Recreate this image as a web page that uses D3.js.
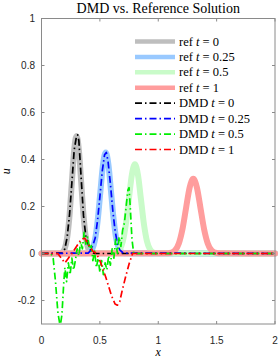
<!DOCTYPE html>
<html>
<head>
<meta charset="utf-8">
<script src="https://cdn.jsdelivr.net/npm/d3@7"></script>
<style>
  body { margin: 0; background: #fff; }
  svg { display: block; }
</style>
</head>
<body>
<svg id="chart"></svg>
<script>
// reference solution
var refX0 = [0, 0.16, 0.18, 0.20, 0.22, 0.24, 0.26, 0.28, 0.30, 0.32, 0.34, 0.36, 0.38, 0.40, 0.42, 0.44, 2];
var refY0 = [0, 0.001, 0.006, 0.022, 0.068, 0.162, 0.303, 0.441, 0.5, 0.441, 0.303, 0.162, 0.068, 0.022, 0.006, 0.001, 0];
var refX25 = [0, 0.389, 0.412, 0.435, 0.458, 0.481, 0.504, 0.527, 0.55, 0.573, 0.596, 0.619, 0.642, 0.665, 0.688, 0.711, 2];
var refY25 = [0, 0.001, 0.005, 0.019, 0.058, 0.140, 0.261, 0.379, 0.43, 0.379, 0.261, 0.140, 0.058, 0.019, 0.005, 0.001, 0];
var refX50 = [0, 0.618, 0.644, 0.670, 0.696, 0.722, 0.748, 0.774, 0.8, 0.826, 0.852, 0.878, 0.904, 0.930, 0.956, 0.982, 2];
var refY50 = [0, 0.001, 0.004, 0.017, 0.051, 0.123, 0.230, 0.335, 0.38, 0.335, 0.230, 0.123, 0.051, 0.017, 0.004, 0.001, 0];
var refX1 = [0, 1.083, 1.114, 1.145, 1.176, 1.207, 1.238, 1.269, 1.3, 1.331, 1.362, 1.393, 1.424, 1.455, 1.486, 1.517, 2];
var refY1 = [0, 0.001, 0.004, 0.014, 0.043, 0.103, 0.193, 0.281, 0.318, 0.281, 0.193, 0.103, 0.043, 0.014, 0.004, 0.001, 0];

// DMD reconstruction
var dmdX0 = [0, 0.18, 0.20, 0.22, 0.24, 0.26, 0.28, 0.30, 0.31, 0.32, 0.34, 0.36, 0.38, 0.40, 0.42, 0.45, 2];
var dmdY0 = [0, 0.002, 0.02, 0.07, 0.165, 0.30, 0.44, 0.50, 0.505, 0.48, 0.32, 0.16, 0.07, 0.04, 0.015, 0, 0];
var dmdX25 = [0, 0.40, 0.42, 0.44, 0.46, 0.48, 0.50, 0.52, 0.54, 0.555, 0.57, 0.59, 0.61, 0.63, 0.65, 0.67, 0.70, 2];
var dmdY25 = [0, 0.002, 0.012, 0.035, 0.066, 0.14, 0.241, 0.349, 0.42, 0.43, 0.392, 0.297, 0.187, 0.098, 0.043, 0.015, 0.002, 0];
var dmdX50 = [0, 0.08, 0.10, 0.12, 0.14, 0.16, 0.175, 0.19, 0.20, 0.215, 0.23, 0.245, 0.26, 0.275, 0.29, 0.305, 0.32, 0.335, 0.35, 0.365,
  0.38, 0.395, 0.41, 0.425, 0.44, 0.455, 0.47, 0.485, 0.50, 0.515, 0.53, 0.545, 0.56, 0.575, 0.59, 0.605, 0.62, 0.635, 0.65, 0.665,
  0.68, 0.695, 0.71, 0.725, 0.74, 0.75, 0.76, 0.775, 0.79, 0.80, 2];
var dmdY50 = [0, 0, -0.02, -0.12, -0.25, -0.31, -0.26, -0.13, -0.06, -0.12, -0.04, -0.09, -0.02, -0.07, -0.03, 0.02, -0.01, 0.05, 0.02, 0.09,
  0.04, 0.07, 0.02, 0.04, -0.03, 0.01, -0.06, -0.02, -0.08, -0.03, -0.09, -0.04, -0.07, -0.01, -0.05, 0.02, -0.02, 0.06, 0.0, 0.07,
  0.03, 0.10, 0.13, 0.20, 0.27, 0.28, 0.20, 0.06, 0.0, 0, 0];
var dmdX1 = [0, 0.14, 0.17, 0.20, 0.23, 0.26, 0.30, 0.34, 0.37, 0.40, 0.44, 0.47, 0.50, 0.55, 0.60, 0.63, 0.65, 0.67, 0.69, 0.72, 0.75, 0.78, 2];
var dmdY1 = [0, 0, -0.02, -0.04, -0.02, 0.0, 0.03, 0.06, 0.065, 0.04, 0.01, 0, -0.03, -0.10, -0.18, -0.215, -0.22, -0.205, -0.16, -0.10, -0.045, 0, 0];

var legendLabels = ["ref", "ref", "ref", "ref", "DMD", "DMD", "DMD", "DMD"];
var legendTimes = ["0", "0.25", "0.5", "1", "0", "0.25", "0.5", "1"];
var xTicks = [0, 0.5, 1, 1.5, 2];
var yTicks = [-0.2, 0, 0.2, 0.4, 0.6, 0.8, 1];

var width = 278, height = 359;
var padL = 41.5, padR = 275, padT = 18.5, padB = 324;

var svg = d3.select("#chart").attr("width", width).attr("height", height);

var x = d3.scaleLinear().domain([0, 2]).range([padL, padR]);
var y = d3.scaleLinear().domain([-0.3, 1]).range([padB, padT]);

var dashDot = "7,3,1.5,3";
var series = [
  { xs: refX0, ys: refY0, color: "#bebebe", w: 6, dash: null, smooth: true },
  { xs: refX25, ys: refY25, color: "#99c9ff", w: 6, dash: null, smooth: true },
  { xs: refX50, ys: refY50, color: "#c9fbc9", w: 6, dash: null, smooth: true },
  { xs: refX1, ys: refY1, color: "#ff9d9d", w: 6, dash: null, smooth: true },
  { xs: dmdX0, ys: dmdY0, color: "#000000", w: 1.7, dash: dashDot, smooth: false },
  { xs: dmdX25, ys: dmdY25, color: "#0000ff", w: 1.7, dash: dashDot, smooth: false },
  { xs: dmdX50, ys: dmdY50, color: "#00ee00", w: 1.7, dash: dashDot, smooth: false },
  { xs: dmdX1, ys: dmdY1, color: "#ff0000", w: 1.7, dash: dashDot, smooth: false }
];

svg.append("clipPath").attr("id", "clip")
  .append("rect")
  .attr("x", padL - 4).attr("y", padT)
  .attr("width", padR - padL + 8).attr("height", padB - padT);

var plot = svg.append("g").attr("clip-path", "url(#clip)");

series.forEach(function(s) {
  var pts = s.xs.map(function(v, i) { return [v, s.ys[i]]; });
  var line = d3.line()
    .x(function(d) { return x(d[0]); })
    .y(function(d) { return y(d[1]); })
    .curve(s.smooth ? d3.curveMonotoneX : d3.curveLinear);
  plot.append("path")
    .attr("d", line(pts))
    .attr("fill", "none")
    .attr("stroke", s.color)
    .attr("stroke-width", s.w)
    .attr("stroke-linecap", s.dash ? "butt" : "round")
    .attr("stroke-linejoin", "round")
    .attr("stroke-dasharray", s.dash);
});

// axes box with inward ticks
var axisColor = "#8a8a8a";
svg.append("rect")
  .attr("x", padL).attr("y", padT)
  .attr("width", padR - padL).attr("height", padB - padT)
  .attr("fill", "none").attr("stroke", axisColor).attr("stroke-width", 1);

var tickLen = 3;
var sans = "Liberation Sans, Arial, sans-serif";
xTicks.forEach(function(t) {
  svg.append("line").attr("x1", x(t)).attr("x2", x(t)).attr("y1", padB).attr("y2", padB - tickLen)
    .attr("stroke", axisColor);
  svg.append("line").attr("x1", x(t)).attr("x2", x(t)).attr("y1", padT).attr("y2", padT + tickLen)
    .attr("stroke", axisColor);
  svg.append("text").attr("x", x(t)).attr("y", 344)
    .attr("text-anchor", "middle")
    .attr("font-family", sans).attr("font-size", 10).attr("fill", "#262626")
    .text(t);
});
yTicks.forEach(function(t) {
  svg.append("line").attr("x1", padL).attr("x2", padL + tickLen).attr("y1", y(t)).attr("y2", y(t))
    .attr("stroke", axisColor);
  svg.append("line").attr("x1", padR).attr("x2", padR - tickLen).attr("y1", y(t)).attr("y2", y(t))
    .attr("stroke", axisColor);
  svg.append("text").attr("x", 35).attr("y", y(t) + 3.5)
    .attr("text-anchor", "end")
    .attr("font-family", sans).attr("font-size", 10).attr("fill", "#262626")
    .text(t);
});

var serif = "Liberation Serif, Times New Roman, serif";

svg.append("text").attr("x", (padL + padR) / 2).attr("y", 12.5)
  .attr("text-anchor", "middle").attr("font-family", serif).attr("font-size", 14)
  .text("DMD vs. Reference Solution");

svg.append("text").attr("x", (padL + padR) / 2).attr("y", 356)
  .attr("text-anchor", "middle").attr("font-family", serif).attr("font-size", 12)
  .attr("font-style", "italic").text("x");

svg.append("text")
  .attr("transform", "translate(10," + ((padT + padB) / 2) + ") rotate(-90)")
  .attr("text-anchor", "middle").attr("font-family", serif).attr("font-size", 12)
  .attr("font-style", "italic").text("u");

// legend
var legend = svg.append("g");
series.forEach(function(s, i) {
  var ly = 41.5 + i * 15.43;
  legend.append("line")
    .attr("x1", 135).attr("x2", 175).attr("y1", ly).attr("y2", ly)
    .attr("stroke", s.color)
    .attr("stroke-width", s.dash ? 1.7 : 4.5)
    .attr("stroke-dasharray", s.dash);
  var t = legend.append("text").attr("x", 179).attr("y", ly + 4)
    .attr("font-family", serif).attr("font-size", 12.5);
  t.append("tspan").text(legendLabels[i] + " ");
  t.append("tspan").attr("font-style", "italic").text("t");
  t.append("tspan").text(" = " + legendTimes[i]);
});
</script>
</body>
</html>
